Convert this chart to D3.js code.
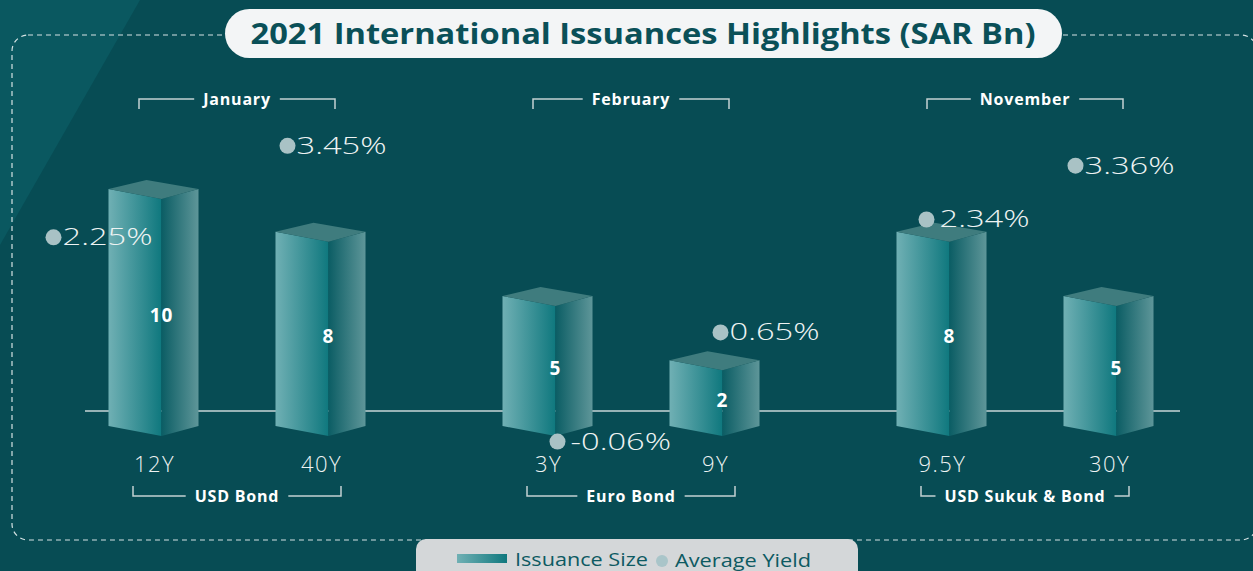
<!DOCTYPE html>
<meta charset="utf-8">
<style>
body { margin: 0; background: #074c54; }
text { font-family: "Open Sans", "DejaVu Sans", sans-serif; }
.tick-label { fill: #eef3f3; font-size: 22px; font-weight: 300; letter-spacing: 1.5px; }
.yield-label { fill: #eef3f3; font-size: 23px; font-weight: 300; }
.value-label { fill: #ffffff; font-size: 19px; font-weight: 700; letter-spacing: 1px; }
.group-label { fill: #ffffff; font-size: 16px; font-weight: 700; letter-spacing: 0.8px; }
.bracket { fill: none; stroke: #c3d1d2; stroke-width: 1.5px; }
</style>
<body>
<script src="https://d3js.org/d3.v7.min.js"></script>
<script>

// data
var months = ["January", "February", "November"];
var issueTypes = ["USD Bond", "Euro Bond", "USD Sukuk & Bond"];
var tenors = ["12Y", "40Y", "3Y", "9Y", "9.5Y", "30Y"];
var issuanceSize = [10, 8, 5, 2, 8, 5];      // SAR Bn
var avgYield = [2.25, 3.45, -0.06, 0.65, 2.34, 3.36];   // %
var groupIndex = [0, 0, 1, 1, 2, 2];
var slotIndex = [0, 1, 0, 1, 0, 1];

// where each yield annotation sits next to its bar (layout only)
var yieldLabelShift = [[-100, 0], [-33, 0], [10, 28], [6, -27], [-15, -11], [-33, 13]];

var width = 1253, height = 571;
var baseY = 411;

var svg = d3.select("body").append("svg")
    .attr("width", width)
    .attr("height", height);

var defs = svg.append("defs");
function grad(id, c0, c1) {
  var g = defs.append("linearGradient").attr("id", id)
      .attr("x1", "0%").attr("x2", "100%").attr("y1", "0%").attr("y2", "0%");
  g.append("stop").attr("offset", "0%").attr("stop-color", c0);
  g.append("stop").attr("offset", "100%").attr("stop-color", c1);
}
grad("front", "#70b0b4", "#0f787e");
grad("side", "#0b5d64", "#5e9699");

// background + light diagonal in the corner
svg.append("rect").attr("width", width).attr("height", height).attr("fill", "#074c54");
svg.append("path").attr("d", "M0,0 L140,0 L0,245 Z").attr("fill", "#0a5860");

// dashed frame
svg.append("rect")
    .attr("x", 12).attr("y", 35)
    .attr("width", 1245).attr("height", 505)
    .attr("rx", 16)
    .attr("fill", "none")
    .attr("stroke", "#d5e2e3")
    .attr("stroke-width", 1.2)
    .attr("stroke-dasharray", "5,4");

// title pill
svg.append("rect")
    .attr("x", 225).attr("y", 9)
    .attr("width", 837).attr("height", 49)
    .attr("rx", 24.5)
    .attr("fill", "#f3f5f6");
svg.append("text")
    .attr("x", 643).attr("y", 44)
    .attr("text-anchor", "middle")
    .attr("fill", "#0a5058")
    .attr("textLength", 785)
    .attr("lengthAdjust", "spacingAndGlyphs")
    .style("font-size", "29px")
    .style("font-weight", 700)
    .text("2021 International Issuances Highlights (SAR Bn)");

// scales
var xGroup = d3.scaleBand().domain(months).range([40, 1222]);
var xSlot = d3.scalePoint().domain([0, 1]).range([-83.5, 83.5]);
var yBar = d3.scaleLinear().domain([0, 10]).range([403, 189]);
var yYield = d3.scaleLinear().domain([0, 3.5]).range([409, 142]);

function groupCenter(g) { return xGroup(months[g]) + xGroup.bandwidth() / 2; }
function barCenter(i) { return groupCenter(groupIndex[i]) + xSlot(slotIndex[i]); }

// baseline
svg.append("line")
    .attr("x1", 85).attr("x2", 1180)
    .attr("y1", baseY).attr("y2", baseY)
    .attr("stroke", "#c9d6d7").attr("stroke-width", 1.5);

// 3d bars
var frontW = 53, sideW = 37, bottomY = baseY + 15, tilt = 10, back = 9;
var bars = svg.selectAll(".bar").data(issuanceSize).enter().append("g").attr("class", "bar");

bars.append("path")   // front face
    .attr("fill", "url(#front)")
    .attr("d", function(d, i) {
      var x0 = barCenter(i) - (frontW + sideW) / 2, yt = yBar(d);
      return "M" + x0 + "," + yt + "L" + (x0 + frontW) + "," + (yt + tilt) +
             "L" + (x0 + frontW) + "," + (bottomY + tilt) + "L" + x0 + "," + bottomY + "Z";
    });
bars.append("path")   // side face
    .attr("fill", "url(#side)")
    .attr("d", function(d, i) {
      var x0 = barCenter(i) - (frontW + sideW) / 2, yt = yBar(d);
      return "M" + (x0 + frontW) + "," + (yt + tilt) + "L" + (x0 + frontW + sideW) + "," + yt +
             "L" + (x0 + frontW + sideW) + "," + bottomY + "L" + (x0 + frontW) + "," + (bottomY + tilt) + "Z";
    });
bars.append("path")   // top face
    .attr("fill", "#3f7c7e")
    .attr("d", function(d, i) {
      var x0 = barCenter(i) - (frontW + sideW) / 2, yt = yBar(d);
      return "M" + x0 + "," + yt + "L" + (x0 + 38) + "," + (yt - back) +
             "L" + (x0 + frontW + sideW) + "," + yt + "L" + (x0 + frontW) + "," + (yt + tilt) + "Z";
    });

bars.append("text")
    .attr("class", "value-label")
    .attr("text-anchor", "middle")
    .attr("x", function(d, i) { return barCenter(i) - (frontW + sideW) / 2 + frontW; })
    .attr("y", function(d) { return (yBar(d) + bottomY + tilt) / 2 + 9; })
    .text(function(d) { return d; });

// tenor labels
svg.selectAll(".tick-label").data(tenors).enter().append("text")
    .attr("class", "tick-label")
    .attr("text-anchor", "middle")
    .attr("x", function(d, i) { return barCenter(i) + 1; })
    .attr("y", 472)
    .text(function(d) { return d; });

// yield dots + labels
var yl = svg.selectAll(".yield").data(avgYield).enter().append("g").attr("class", "yield")
    .attr("transform", function(d, i) {
      return "translate(" + (barCenter(i) + yieldLabelShift[i][0]) + "," + (yYield(d) + yieldLabelShift[i][1]) + ")";
    });
yl.append("circle").attr("r", 8).attr("fill", "#a9c2c5");
yl.append("text")
    .attr("class", "yield-label")
    .attr("transform", function(d) { return "translate(" + (d < 0 || d == 2.34 ? 13 : 9) + ",8) scale(1.42,1)"; })
    .text(function(d) { return (d < 0 || d == 2.34 ? " " : "") + d.toFixed(2) + "%"; });

// brackets with labels
function bracket(label, cx, y, dir, half) {
  var t = svg.append("text")
      .attr("class", "group-label")
      .attr("text-anchor", "middle")
      .attr("x", cx).attr("y", y + 6)
      .text(label);
  var w = t.node().getComputedTextLength() / 2 + 9;
  svg.append("path").attr("class", "bracket")
      .attr("d", "M" + (cx - half) + "," + (y + dir * 10) + "V" + y + "H" + (cx - w) +
                 "M" + (cx + w) + "," + y + "H" + (cx + half) + "V" + (y + dir * 10));
}
months.forEach(function(m, g) { bracket(m, groupCenter(g), 99, 1, 98); });
issueTypes.forEach(function(m, g) { bracket(m, groupCenter(g), 496, -1, 104); });

// legend
svg.append("rect")
    .attr("x", 416).attr("y", 539)
    .attr("width", 442).attr("height", 50)
    .attr("rx", 10)
    .attr("fill", "#d4d7d9");
svg.append("rect")
    .attr("x", 457).attr("y", 554)
    .attr("width", 50).attr("height", 9)
    .attr("fill", "url(#front)");
svg.append("text")
    .attr("x", 515).attr("y", 566)
    .attr("fill", "#0d5a62")
    .attr("textLength", 133)
    .attr("lengthAdjust", "spacingAndGlyphs")
    .style("font-size", "18px")
    .text("Issuance Size");
svg.append("circle").attr("cx", 662).attr("cy", 561).attr("r", 6).attr("fill", "#a9c5c9");
svg.append("text")
    .attr("x", 675).attr("y", 567)
    .attr("fill", "#0d5a62")
    .attr("textLength", 136)
    .attr("lengthAdjust", "spacingAndGlyphs")
    .style("font-size", "18px")
    .text("Average Yield");

</script>
</body>
